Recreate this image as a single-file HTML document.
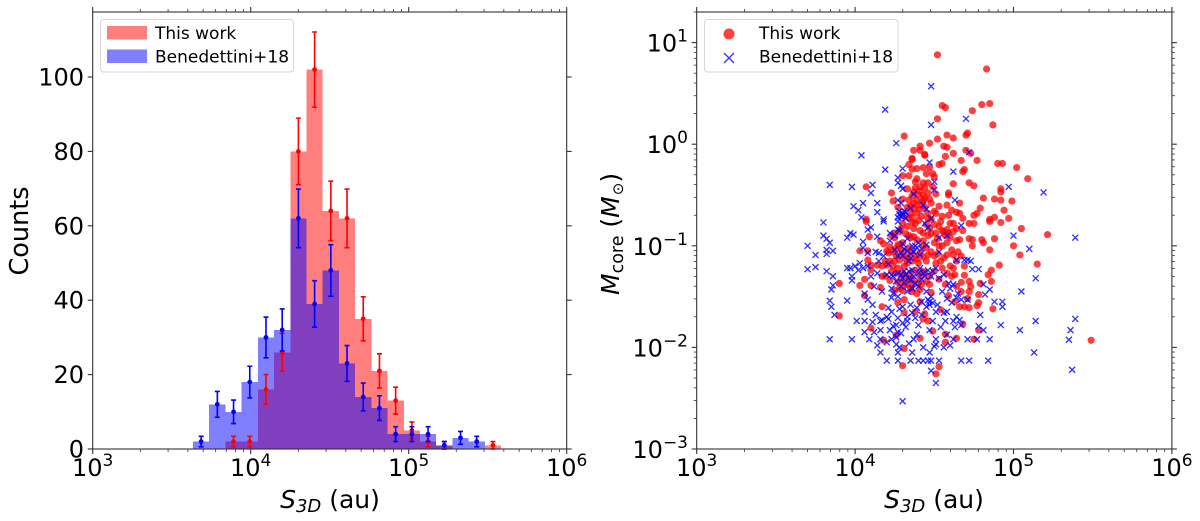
<!DOCTYPE html>
<html lang="en">
<head>
<meta charset="utf-8">
<title>S3D histogram and core mass scatter</title>
<style>
html,body{margin:0;padding:0;background:#fff;width:1200px;height:521px;overflow:hidden}
svg{display:block;filter:blur(.35px)}
text{font-family:"DejaVu Sans","Liberation Sans",sans-serif;fill:#000}
</style>
</head>
<body>
<svg id="fig" xmlns="http://www.w3.org/2000/svg" width="1200" height="521" viewBox="0 0 1200 521">
  <g id="hist-panel">
    <g id="hist-bars" shape-rendering="crispEdges"></g>
    <g id="hist-err"></g>
    <g id="hist-axes"></g>
    <text transform="translate(28,231) rotate(-90)" text-anchor="middle" font-size="25.5">Counts</text>
    <text x="330" y="508" text-anchor="middle" font-size="25"><tspan font-style="italic">S</tspan><tspan font-size="18" font-style="italic" dy="4">3D</tspan><tspan dy="-4"> (au)</tspan></text>
    <g>
      <rect x="100.5" y="19.5" width="193" height="52.5" rx="3" fill="#fff" fill-opacity=".8" stroke="#d5d5d5" stroke-width="1"></rect>
      <rect x="107" y="26" width="40" height="13.5" fill="#ff0000" fill-opacity=".5"></rect>
      <text x="155" y="39" font-size="17">This work</text>
      <rect x="107" y="49.5" width="40" height="13.5" fill="#0000ff" fill-opacity=".5"></rect>
      <text x="155" y="62.5" font-size="17">Benedettini+18</text>
    </g>
  </g>
  <g id="scatter-panel">
    <g id="scatter-red"></g>
    <g id="scatter-blue"></g>
    <g id="scatter-axes"></g>
    <text transform="translate(619,295) rotate(-90)" font-size="25"><tspan font-style="italic">M</tspan><tspan font-size="17.5" dy="4">core</tspan><tspan dy="-4"> (</tspan><tspan font-style="italic">M</tspan><tspan font-size="15" dy="4" dx="1">⊙</tspan><tspan dy="-4">)</tspan></text>
    <text x="934" y="508" text-anchor="middle" font-size="25"><tspan font-style="italic">S</tspan><tspan font-size="18" font-style="italic" dy="4">3D</tspan><tspan dy="-4"> (au)</tspan></text>
    <g>
      <rect x="704.5" y="19.5" width="193.5" height="52.5" rx="3" fill="#fff" fill-opacity=".8" stroke="#d5d5d5" stroke-width="1"></rect>
      <circle cx="729" cy="34" r="5.5" fill="#ff0000" fill-opacity=".75"></circle>
      <text x="759" y="39" font-size="17">This work</text>
      <path d="M724 53 L734 63 M734 53 L724 63" stroke="#0000ff" stroke-opacity=".8" stroke-width="1.3" fill="none"></path>
      <text x="759" y="62.5" font-size="17">Benedettini+18</text>
    </g>
  </g>
</svg>
<script>
// Histogram data: log10(S3D/au) of the first bin edge, bin width in dex, counts per bin
const binStartLog = 3.635;
const binWidthLog = 0.1026;
const redCounts  = [0,0,2,2,16,26,80,102,64,62,35,21,13,5,2,1,0,0,1];
const blueCounts = [2,12,10,18,30,32,62,39,48,23,14,11,4,4,4,1,3,2,0];
const countTicks = [0,20,40,60,80,100];
const decadeTicks = [3,4,5,6];
const massDecadeTicks = [-3,-2,-1,0,1];

// Scatter data: [log10(S3D/au), log10(Mcore/Msun)]
const redCores = [
[4.52,0.88],[4.83,0.74],[4.55,0.38],[4.57,0.36],[4.80,0.39],[4.85,0.40],[4.74,0.33],[4.52,0.25],[4.87,0.19],[4.31,0.08],
[4.71,0.11],[4.70,0.09],[4.58,0.09],[4.62,0.06],[4.52,0.05],[4.47,0.01],[4.41,-0.02],[4.37,-0.06],[4.41,-0.06],[4.56,-0.02],
[4.58,-0.03],[4.70,-0.06],[4.73,-0.09],[4.62,-0.09],[4.44,-0.10],[4.44,-0.11],[4.57,-0.12],[4.36,-0.14],[4.36,-0.15],[4.77,-0.16],
[4.67,-0.16],[4.55,-0.19],[4.53,-0.20],[4.34,-0.20],[4.90,-0.19],[4.93,-0.19],[5.02,-0.23],[4.36,-0.245],[4.39,-0.24],[4.43,-0.23],
[4.47,-0.23],[4.69,-0.25],[4.68,-0.27],[4.34,-0.31],[4.30,-0.31],[4.45,-0.29],[4.49,-0.29],[4.50,-0.32],[5.09,-0.34],[4.39,-0.34],
[4.38,-0.37],[4.07,-0.42],[4.72,-0.38],[4.75,-0.41],[4.62,-0.39],[4.43,-0.38],[4.46,-0.38],[4.41,-0.42],[4.38,-0.43],[4.44,-0.43],
[4.49,-0.42],[4.92,-0.44],[4.92,-0.47],[4.59,-0.48],[4.59,-0.50],[4.23,-0.48],[4.51,-0.49],[4.43,-0.50],[4.46,-0.48],[4.40,-0.50],
[4.36,-0.51],[4.81,-0.53],[4.88,-0.54],[4.92,-0.55],[4.99,-0.56],[4.24,-0.56],[4.30,-0.54],[4.34,-0.55],[4.39,-0.55],[4.43,-0.55],
[4.66,-0.58],[4.47,-0.54],[4.58,-0.60],[4.53,-0.61],[4.79,-0.63],[4.39,-0.60],[4.35,-0.61],[4.50,-0.66],[4.61,-0.65],[4.64,-0.67],
[4.66,-0.68],[4.77,-0.68],[4.75,-0.70],[4.94,-0.65],[4.88,-0.72],[4.97,-0.73],[4.59,-0.70],[4.55,-0.71],[4.39,-0.68],[4.42,-0.71],
[4.35,-0.68],[4.34,-0.73],[4.51,-0.68],[4.07,-0.74],[4.68,-0.73],[4.85,-0.74],[4.07,-0.76],[4.33,-0.81],[4.37,-0.83],[4.45,-0.79],
[4.53,-0.81],[4.60,-0.78],[4.64,-0.83],[4.72,-0.78],[4.75,-0.78],[4.85,-0.76],[4.92,-0.77],[5.05,-0.83],[4.43,-0.875],[4.25,-0.875],
[4.28,-0.86],[4.09,-0.91],[4.25,-0.92],[4.37,-0.91],[4.51,-0.875],[4.56,-0.86],[4.59,-0.875],[4.62,-0.86],[4.66,-0.94],[4.74,-0.94],
[4.74,-1.0],[4.80,-0.94],[4.81,-0.97],[4.88,-0.93],[5.0,-1.0],[4.85,-1.04],[5.04,-1.09],[5.15,-1.18],[4.91,-1.19],[4.86,-1.24],
[4.84,-1.285],[4.86,-1.35],[4.18,-0.98],[4.22,-1.01],[4.24,-1.06],[4.21,-1.07],[4.27,-0.99],[4.30,-0.97],[4.34,-1.02],[4.03,-1.05],
[4.08,-1.05],[4.08,-1.14],[4.10,-1.19],[4.10,-1.24],[4.14,-1.19],[4.17,-1.20],[4.22,-1.15],[4.25,-1.15],[4.28,-1.14],[4.33,-1.17],
[4.36,-1.15],[4.40,-1.17],[4.45,-1.15],[4.51,-1.17],[4.50,-0.97],[4.53,-1.0],[4.58,-0.97],[4.61,-1.04],[4.62,-1.09],[4.65,-1.06],
[4.67,-1.10],[4.64,-1.15],[4.62,-1.22],[4.63,-1.285],[4.61,-1.30],[4.45,-1.02],[4.41,-1.07],[4.38,-1.10],[4.48,-1.06],[4.56,-1.12],
[4.17,-1.30],[4.22,-1.34],[4.27,-1.36],[4.28,-1.42],[4.32,-1.30],[4.36,-1.33],[4.41,-1.30],[4.45,-1.35],[4.42,-1.38],[4.06,-1.33],
[4.03,-1.39],[4.10,-1.39],[4.16,-1.41],[3.90,-1.37],[4.36,-1.45],[4.39,-1.47],[4.41,-1.43],[4.48,-1.46],[4.31,-1.53],[4.27,-1.56],
[4.06,-1.49],[4.41,-1.55],[4.67,-1.36],[4.72,-1.35],[4.79,-1.37],[4.73,-1.40],[4.67,-1.45],[4.72,-1.45],[4.78,-1.48],[4.59,-1.49],
[4.71,-1.52],[4.78,-1.56],[4.77,-1.59],[4.87,-1.62],[4.72,-1.61],[4.69,-1.60],[4.66,-1.60],[4.63,-1.55],[4.54,-1.63],[4.17,-1.60],
[3.90,-1.69],[4.31,-1.66],[4.38,-1.65],[4.44,-1.67],[4.43,-1.72],[4.46,-1.74],[4.68,-1.77],[4.10,-1.81],[4.78,-1.83],[4.49,-1.84],
[4.26,-1.88],[4.57,-1.87],[4.41,-1.91],[4.64,-1.91],[4.18,-1.93],[4.57,-1.95],[4.75,-1.92],[4.31,-2.01],[4.53,-2.19],[4.30,-2.18],
[4.51,-2.26],[5.215,-0.89],[5.49,-1.93],
[4.27,-0.62],[4.30,-0.78],[4.32,-0.88],[4.35,-0.92],[4.38,-0.78],[4.41,-0.85],[4.46,-0.9],[4.48,-0.74],[4.33,-0.62],[4.37,-0.58],
[4.44,-0.62],[4.46,-0.68],[4.54,-0.76],[4.57,-0.9],[4.28,-1.0],[4.30,-1.05],[4.33,-1.1],[4.26,-1.1],[4.24,-1.2],[4.27,-1.22],
[4.31,-1.2],[4.35,-1.27],[4.29,-1.33],[4.33,-1.38],[4.30,-1.44],[4.35,-1.42],[4.42,-1.25],[4.47,-1.3],[4.5,-1.1],[4.55,-1.0],
[4.6,-1.2],[4.43,-1.0],[4.48,-0.88],[4.52,-0.93],[4.64,-0.95],[4.69,-1.2],[4.2,-1.05],[4.19,-1.15],[4.36,-0.72],[4.23,-0.9],
[4.58,-0.84],[4.62,-0.78],[4.68,-0.85],[4.16,-0.95],[4.72,-0.93],
[4.41,-0.46],[4.44,-0.53],[4.37,-0.47],[4.33,-0.44],[4.42,-0.57],[4.48,-0.58],[4.37,-0.64],[4.41,-0.64],[4.46,-0.73],[4.40,-0.75],
[4.36,-0.77],[4.31,-0.71],[4.29,-0.83],[4.34,-0.90],[4.39,-0.94],[4.43,-0.95],[4.47,-0.83],[4.50,-0.79],[4.55,-0.85],[4.60,-0.92],
[4.26,-1.03],[4.29,-1.09],[4.32,-1.13],[4.36,-1.05],[4.39,-1.13],[4.43,-1.11],[4.46,-1.09],[4.52,-1.08],[4.54,-1.15],[4.58,-1.09],
[4.23,-1.25],[4.20,-1.19],[4.19,-1.30],[4.26,-1.27],[4.30,-1.27],[4.38,-1.24],[4.44,-1.26],[4.50,-1.25],[4.55,-1.22],[4.58,-1.27],
[4.34,-1.33],[4.37,-1.38],[4.31,-1.39],[4.25,-1.44],[4.40,-1.36],[4.47,-1.38],[4.53,-1.33],[4.57,-1.38],[4.64,-1.40],[4.69,-1.29]
];
const blueCores = [
[4.48,0.57],[4.19,0.34],[4.70,0.25],[4.48,0.19],[4.26,0.01],[4.72,-0.08],[4.04,-0.11],[4.47,-0.18],[4.19,-0.25],[4.30,-0.24],
[4.62,-0.27],[3.84,-0.40],[3.98,-0.42],[4.11,-0.40],[4.10,-0.48],[4.27,-0.33],[4.27,-0.38],[4.29,-0.41],[4.30,-0.44],[4.50,-0.37],
[4.50,-0.45],[4.37,-0.49],[4.97,-0.42],[4.63,-0.55],[3.99,-0.61],[4.05,-0.58],[4.14,-0.58],[4.02,-0.65],[4.14,-0.67],[4.04,-0.72],
[4.27,-0.55],[4.29,-0.58],[4.43,-0.60],[4.45,-0.64],[4.35,-0.63],[4.30,-0.68],[4.32,-0.67],[4.28,-0.66],[4.27,-0.72],[4.18,-0.74],
[4.48,-0.73],[3.80,-0.77],[4.18,-0.76],[4.08,-0.84],[4.10,-0.82],[3.80,-0.90],[3.82,-0.93],[3.84,-0.97],[3.95,-0.92],[3.97,-0.875],
[3.99,-0.89],[4.05,-0.96],[4.14,-0.91],[4.22,-0.875],[4.27,-0.76],[4.27,-0.84],[4.44,-0.78],[4.46,-0.82],[4.53,-0.92],[4.58,-0.90],
[4.67,-0.80],[5.0,-0.90],[5.10,-1.03],[3.70,-1.0],[3.75,-1.09],[3.82,-1.04],[3.82,-1.08],[3.86,-1.05],[3.70,-1.23],[3.75,-1.21],
[3.82,-1.25],[3.86,-1.30],[3.95,-1.22],[3.97,-1.22],[4.0,-1.20],[4.03,-1.17],[4.02,-1.24],[4.05,-1.22],[4.08,-1.20],[3.98,-1.30],
[3.98,-1.34],[3.86,-1.39],[3.85,-1.43],[4.05,-1.02],[4.08,-1.07],[4.13,-1.06],[4.15,-1.07],[4.25,-1.04],[4.29,-1.07],[4.30,-1.10],
[4.37,-1.06],[4.39,-1.02],[4.41,-1.09],[4.53,-1.06],[4.45,-0.99],[4.14,-1.27],[4.20,-1.285],[4.23,-1.285],[4.27,-1.27],[4.29,-1.285],
[4.31,-1.25],[4.34,-1.32],[4.36,-1.24],[4.41,-1.22],[4.46,-1.24],[4.49,-1.25],[4.51,-1.22],[4.56,-1.285],[4.59,-1.37],[4.62,-1.38],
[4.71,-1.14],[4.73,-1.15],[4.69,-1.14],[4.78,-1.23],[4.74,-1.23],[4.64,-1.14],[4.17,-1.45],[4.23,-1.42],[4.24,-1.47],[4.23,-1.51],
[4.27,-1.50],[4.06,-1.47],[4.08,-1.53],[4.11,-1.58],[3.84,-1.54],[3.85,-1.60],[3.87,-1.68],[3.95,-1.54],[4.06,-1.65],[4.01,-1.74],
[4.06,-1.74],[4.13,-1.68],[4.17,-1.73],[4.20,-1.70],[4.21,-1.61],[4.23,-1.65],[4.16,-1.74],[4.16,-1.83],[4.22,-1.83],[4.24,-1.79],
[4.26,-1.78],[4.27,-1.71],[4.33,-1.70],[4.38,-1.71],[4.33,-1.74],[4.39,-1.61],[4.36,-1.66],[4.47,-1.55],[4.49,-1.56],[4.46,-1.53],
[4.51,-1.65],[4.49,-1.74],[4.57,-1.74],[4.62,-1.74],[4.64,-1.70],[4.66,-1.73],[4.58,-1.65],[4.61,-1.56],[4.64,-1.51],[4.67,-1.53],
[4.71,-1.53],[4.60,-1.42],[4.65,-1.47],[4.85,-1.43],[4.81,-1.38],[4.82,-1.48],[4.88,-1.55],[4.93,-1.55],[4.93,-1.60],[4.79,-1.68],
[5.05,-1.45],[5.14,-1.32],[5.14,-1.74],[4.92,-1.78],[5.04,-1.83],[5.13,-2.05],[4.78,-1.79],[4.81,-1.83],[4.67,-1.78],[3.84,-1.92],
[3.98,-1.92],[4.09,-1.92],[4.16,-1.92],[4.23,-1.92],[4.26,-1.90],[4.29,-1.86],[4.37,-1.92],[4.39,-1.875],[4.47,-1.83],[4.51,-1.92],
[4.51,-1.97],[4.50,-1.99],[4.58,-1.875],[4.60,-1.98],[4.62,-1.92],[4.71,-1.92],[4.77,-1.92],[4.85,-1.92],[4.14,-1.98],[4.16,-2.05],
[4.26,-1.97],[4.27,-2.05],[4.36,-2.05],[4.47,-2.05],[4.20,-2.13],[4.27,-2.13],[4.35,-2.13],[4.40,-2.13],[4.43,-2.13],[4.46,-2.13],
[4.48,-2.13],[4.53,-2.13],[4.67,-2.13],[4.72,-2.13],[4.84,-2.13],[4.48,-2.23],[4.51,-2.35],[4.30,-2.53],[5.19,-0.475],[5.39,-0.92],
[5.39,-1.72],[5.36,-1.83],[5.35,-1.925],[5.37,-2.22],
[4.3,-0.7],[4.32,-0.73],[4.28,-0.69],[4.31,-0.66],[4.29,-0.71],[4.27,-1.1],[4.33,-1.05],[4.35,-1.08],[4.38,-1.0],[4.32,-1.28],
[4.3,-1.32],[4.34,-1.25],[4.37,-1.3],[4.4,-1.27],[4.29,-1.4],[4.33,-1.45],[4.26,-1.35],[4.24,-1.3],[4.21,-1.18],[4.18,-1.1],
[4.15,-1.15],[4.22,-0.95],[4.25,-0.9],[4.28,-0.85],[4.3,-0.98],[4.33,-0.93],[4.1,-1.3],[4.12,-1.4],[4.45,-1.45],[4.42,-1.55],
[4.48,-1.5],[4.55,-1.45],[4.58,-1.52],[4.3,-1.6],[4.27,-1.85],[4.32,-1.8],[4.4,-1.78],[4.43,-2.0],[4.56,-2.0],[4.06,-1.85],
[4.12,-1.85],[4.2,-1.95],
[4.35,-1.12],[4.31,-1.03],[4.36,-1.0],[4.42,-1.03],[4.40,-0.97],[4.34,-1.15],[4.35,-1.34],[4.38,-1.37],[4.42,-1.33],[4.44,-1.30],
[4.31,-1.36],[4.36,-1.42],[4.40,-1.40],[4.43,-1.27],[4.48,-1.30],[4.53,-1.32],[4.47,-1.58],[4.45,-1.60],[4.52,-1.58],[4.56,-1.66],
[4.35,-1.58],[4.28,-1.62],[4.21,-1.72],[4.11,-1.75],[4.30,-1.76],[4.42,-1.68],[4.54,-1.80],[4.63,-1.80],[4.28,-2.0],[4.34,-1.96]
];

const NS = 'http://www.w3.org/2000/svg';
function make(tag, attrs, parent) {
  const el = document.createElementNS(NS, tag);
  for (const k in attrs) el.setAttribute(k, attrs[k]);
  parent.appendChild(el);
  return el;
}
// Axis functions
const histX = v => 92.7 + (v - 3) * 158;
const histY = v => 449 - v * 3.72;
const scatX = v => 696.7 + (v - 3) * 158.4;
const scatY = v => 449 - (v + 3) * 101.6;
const AXIS_COLOR = '#333';
const MINOR_LOGS = [2,3,4,5,6,7,8,9].map(Math.log10);

function drawFrame(g, left, right, top, bottom) {
  const frame = make('rect', {x:left, y:top, width:right-left, height:bottom-top, fill:'none', stroke:AXIS_COLOR, 'stroke-width':1.1}, g);
  
  
}
function drawTick(g, x1, y1, x2, y2, w) {
  const t = make('line', {x1, y1, x2, y2, stroke:AXIS_COLOR, 'stroke-width':w}, g);
  
  
}
function drawDecadeLabel(g, x, y, anchor, power) {
  const t = make('text', {x, y, 'text-anchor':anchor, 'font-size':24}, g);
  
  
  t.appendChild(document.createTextNode('10'));
  const sup = make('tspan', {'font-size':17, dy:-10}, t);
  sup.textContent = String(power).replace('-', '\u2212');
}
function drawLogXTicks(g, xFn, top, bottom) {
  decadeTicks.forEach(d => {
    const x = xFn(d);
    drawTick(g, x, bottom, x, bottom + 5, 1.1);
    drawTick(g, x, top, x, top - 5, 1.1);
    drawDecadeLabel(g, x, 476, 'middle', d);
    if (d < 6) MINOR_LOGS.forEach(m => {
      const xm = xFn(d + m);
      drawTick(g, xm, bottom, xm, bottom + 3, .8);
      drawTick(g, xm, top, xm, top - 3, .8);
    });
  });
}

// Histogram
const barsG = document.getElementById('hist-bars');
const errG = document.getElementById('hist-err');
function drawBars(counts, color, name) {
  counts.forEach((c, i) => {
    if (!c) return;
    const l = histX(binStartLog + i * binWidthLog);
    const r = histX(binStartLog + (i + 1) * binWidthLog);
    const bar = make('rect', {x:l, y:histY(c), width:r-l, height:histY(0)-histY(c), fill:color, 'fill-opacity':.5}, barsG);
    
    
  });
}
function drawErrors(counts, color, name) {
  counts.forEach((c, i) => {
    if (!c) return;
    const x = histX(binStartLog + (i + .5) * binWidthLog);
    const e = Math.sqrt(c);
    const lo = histY(c - e), hi = histY(c + e);
    const eb = make('path', {d:`M${x} ${lo}V${hi}M${x-2.5} ${hi}H${x+2.5}M${x-2.5} ${lo}H${x+2.5}`, stroke:color, 'stroke-width':1.6, fill:'none'}, errG);
    
    
    const dot = make('circle', {cx:x, cy:histY(c), r:2.4, fill:color}, errG);
    
    
  });
}
drawBars(redCounts, '#ff0000', 'bar-this-work');
drawBars(blueCounts, '#0000ff', 'bar-benedettini');
drawErrors(redCounts, '#ff0000', 'error-bar-this-work');
drawErrors(blueCounts, '#0000ff', 'error-bar-benedettini');

const histAxes = document.getElementById('hist-axes');
drawFrame(histAxes, histX(3), histX(6), 12, 449);
drawLogXTicks(histAxes, histX, 12, 449);
countTicks.forEach(c => {
  const y = histY(c);
  drawTick(histAxes, histX(3) - 5, y, histX(3), y, 1.1);
  drawTick(histAxes, histX(6), y, histX(6) + 5, y, 1.1);
  const t = make('text', {x:84, y:y + 8.5, 'text-anchor':'end', 'font-size':24}, histAxes);
  
  
  t.textContent = c;
});

// Scatter
const redG = document.getElementById('scatter-red');
redCores.forEach(p => {
  const c = make('circle', {cx:scatX(p[0]), cy:scatY(p[1]), r:3.6, fill:'#ff0000', 'fill-opacity':.75}, redG);
  
  
});
const blueG = document.getElementById('scatter-blue');
blueCores.forEach(p => {
  const x = scatX(p[0]), y = scatY(p[1]), s = 3;
  const m = make('path', {d:`M${x-s} ${y-s}L${x+s} ${y+s}M${x+s} ${y-s}L${x-s} ${y+s}`, stroke:'#0000ff', 'stroke-opacity':.8, 'stroke-width':1.35, fill:'none'}, blueG);
  
  
});

const scatAxes = document.getElementById('scatter-axes');
drawFrame(scatAxes, scatX(3), scatX(6), 12, 449);
drawLogXTicks(scatAxes, scatX, 12, 449);
massDecadeTicks.forEach(d => {
  const y = scatY(d);
  drawTick(scatAxes, scatX(3) - 5, y, scatX(3), y, 1.1);
  drawTick(scatAxes, scatX(6), y, scatX(6) + 5, y, 1.1);
  drawDecadeLabel(scatAxes, 688, y + 9, 'end', d);
  MINOR_LOGS.forEach(m => {
    const ym = scatY(d + m);
    if (ym < 12) return;
    drawTick(scatAxes, scatX(3) - 3, ym, scatX(3), ym, .8);
    drawTick(scatAxes, scatX(6), ym, scatX(6) + 3, ym, .8);
  });
});
</script>
</body>
</html>
